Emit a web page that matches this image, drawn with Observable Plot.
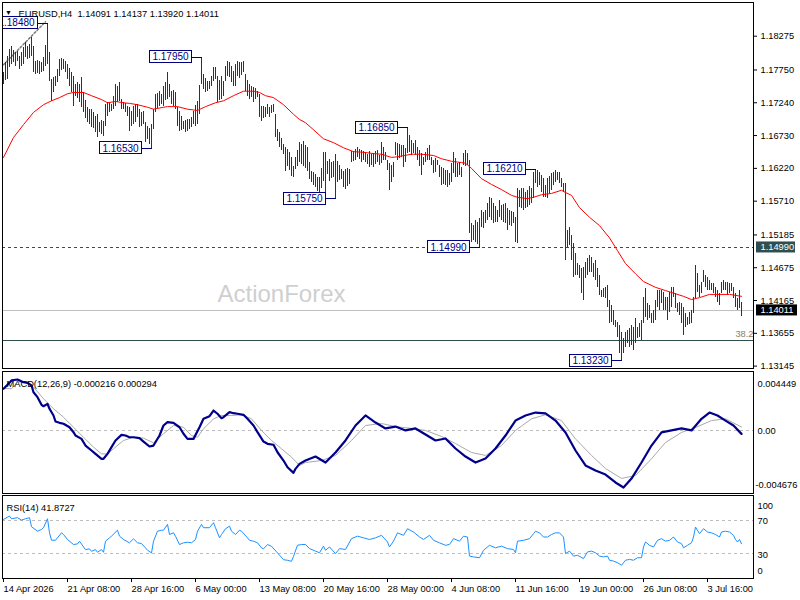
<!DOCTYPE html>
<html><head><meta charset="utf-8">
<script src="https://cdn.jsdelivr.net/npm/d3@7"></script>
<script src="https://cdn.jsdelivr.net/npm/@observablehq/plot@0.6"></script>
<style>
html,body{margin:0;padding:0;background:#fff;}
#chart{position:relative;width:800px;height:600px;overflow:hidden;background:#fff;}
#chart svg{position:absolute;left:0;}
</style></head><body><div id="chart"></div>
<script>
// ---------- data ----------
const symbolTitle = "EURUSD,H4";
const lastOHLC = [1.14091, 1.14137, 1.13920, 1.14011];

const high = [
1.1771,1.1787,1.1796,1.1807,1.1811,1.1805,1.1802,1.1804,1.1796,1.1802,
1.1810,1.1818,1.1811,1.1815,1.1825,1.1811,1.1788,1.1790,1.1788,1.1787,
1.1794,1.1813,1.1848,1.1802,1.1760,1.1763,1.1765,1.1776,1.1791,1.1793,
1.1791,1.1788,1.1783,1.1777,1.1771,1.1765,1.1752,1.1755,1.1752,1.1763,
1.1740,1.1727,1.1717,1.1714,1.1714,1.1709,1.1703,1.1706,1.1693,1.1696,
1.1695,1.1721,1.1724,1.1723,1.1721,1.1734,1.1752,1.1749,1.1755,1.1729,
1.1724,1.1723,1.1718,1.1717,1.1710,1.1718,1.1721,1.1721,1.1714,1.1709,
1.1710,1.1693,1.1687,1.1684,1.1690,1.1714,1.1737,1.1738,1.1742,1.1737,
1.1749,1.1755,1.1771,1.1752,1.1742,1.1743,1.1740,1.1717,1.1710,1.1703,
1.1695,1.1696,1.1698,1.1698,1.1701,1.1710,1.1720,1.1726,1.1751,1.1795,
1.1768,1.1762,1.1757,1.1757,1.1765,1.1779,1.1779,1.1765,1.1759,1.1765,
1.1757,1.1780,1.1788,1.1787,1.1780,1.1773,1.1783,1.1788,1.1787,1.1787,
1.1788,1.1768,1.1759,1.1752,1.1749,1.1748,1.1746,1.1742,1.1737,1.1718,
1.1718,1.1717,1.1721,1.1717,1.1720,1.1721,1.1706,1.1682,1.1678,1.1668,
1.1659,1.1654,1.1651,1.1647,1.1639,1.1625,1.1639,1.1650,1.1662,1.1659,
1.1664,1.1658,1.1654,1.1631,1.1617,1.1616,1.1612,1.1608,1.1608,1.1622,
1.1647,1.1647,1.1633,1.1636,1.1631,1.1633,1.1644,1.1633,1.1626,1.1620,
1.1617,1.1620,1.1622,1.1620,1.1648,1.1648,1.1651,1.1654,1.1651,1.1650,
1.1648,1.1647,1.1644,1.1648,1.1644,1.1645,1.1648,1.1650,1.1642,1.1662,
1.1654,1.1647,1.1634,1.1630,1.1626,1.1631,1.1662,1.1661,1.1659,1.1658,
1.1658,1.1653,1.1685,1.1673,1.1665,1.1661,1.1665,1.1654,1.1650,1.1645,
1.1639,1.1647,1.1653,1.1658,1.1639,1.1634,1.1637,1.1634,1.1626,1.1623,
1.1622,1.1619,1.1619,1.1614,1.1630,1.1647,1.1637,1.1630,1.1631,1.1623,
1.1645,1.1650,1.1645,1.1634,1.1536,1.1533,1.1541,1.1538,1.1544,1.1556,
1.1553,1.1556,1.1567,1.1577,1.1575,1.1567,1.1563,1.1556,1.1572,1.1564,
1.1566,1.1567,1.1560,1.1556,1.1555,1.1553,1.1546,1.1591,1.1588,1.1591,
1.1591,1.1584,1.1588,1.1594,1.1591,1.1616,1.1621,1.1618,1.1616,1.1611,
1.1606,1.1595,1.1606,1.1609,1.1614,1.1616,1.1619,1.1616,1.1616,1.1606,
1.1598,1.1598,1.1525,1.1530,1.1518,1.1505,1.1490,1.1474,1.1471,1.1466,
1.1468,1.1476,1.1482,1.1486,1.1483,1.1474,1.1479,1.1466,1.1455,1.1432,
1.1435,1.1437,1.1440,1.1417,1.1409,1.1401,1.1385,1.1382,1.1378,1.1367,
1.1357,1.1367,1.1370,1.1373,1.1378,1.1375,1.1389,1.1375,1.1381,1.1385,
1.1421,1.1435,1.1412,1.1409,1.1396,1.1401,1.1417,1.1432,1.1432,1.1432,
1.1429,1.1421,1.1421,1.1429,1.1437,1.1437,1.1427,1.1412,1.1413,1.1412,
1.1406,1.1396,1.1390,1.1398,1.1401,1.1421,1.1471,1.1458,1.1440,1.1444,
1.1463,1.1455,1.1452,1.1448,1.1443,1.1443,1.1437,1.1432,1.1427,1.1444,
1.1448,1.1444,1.1444,1.1443,1.1443,1.1437,1.1427,1.1420,1.1432,1.14137];

const low = [
1.1752,1.1759,1.1760,1.1779,1.1783,1.1787,1.1780,1.1788,1.1776,1.1780,
1.1783,1.1794,1.1791,1.1793,1.1796,1.1771,1.1768,1.1769,1.1768,1.1771,
1.1773,1.1780,1.1783,1.1757,1.1726,1.1740,1.1749,1.1755,1.1765,1.1774,
1.1776,1.1771,1.1760,1.1749,1.1740,1.1718,1.1734,1.1731,1.1724,1.1717,
1.1709,1.1700,1.1693,1.1690,1.1686,1.1684,1.1678,1.1670,1.1678,1.1675,
1.1672,1.1687,1.1703,1.1709,1.1710,1.1714,1.1718,1.1724,1.1726,1.1714,
1.1714,1.1709,1.1703,1.1679,1.1687,1.1690,1.1693,1.1701,1.1686,1.1687,
1.1690,1.1662,1.1667,1.1659,1.1653,1.1682,1.1709,1.1715,1.1718,1.1721,
1.1718,1.1727,1.1729,1.1732,1.1721,1.1718,1.1714,1.1687,1.1679,1.1681,
1.1682,1.1678,1.1679,1.1682,1.1686,1.1690,1.1687,1.1690,1.1706,1.1752,
1.1745,1.1740,1.1742,1.1745,1.1749,1.1757,1.1760,1.1724,1.1727,1.1729,
1.1734,1.1757,1.1765,1.1763,1.1755,1.1749,1.1749,1.1765,1.1762,1.1766,
1.1771,1.1742,1.1734,1.1729,1.1732,1.1724,1.1729,1.1732,1.1701,1.1695,
1.1700,1.1701,1.1706,1.1701,1.1707,1.1709,1.1670,1.1664,1.1654,1.1650,
1.1644,1.1617,1.1625,1.1619,1.1609,1.1608,1.1620,1.1625,1.1631,1.1628,
1.1625,1.1622,1.1617,1.1605,1.1600,1.1595,1.1592,1.1586,1.1584,1.1591,
1.1602,1.1581,1.1612,1.1602,1.1606,1.1608,1.1575,1.1600,1.1603,1.1605,
1.1592,1.1589,1.1594,1.1597,1.1631,1.1633,1.1634,1.1639,1.1636,1.1631,
1.1634,1.1631,1.1628,1.1623,1.1626,1.1623,1.1628,1.1631,1.1626,1.1630,
1.1634,1.1634,1.1619,1.1588,1.1600,1.1608,1.1642,1.1634,1.1637,1.1639,
1.1623,1.1631,1.1645,1.1647,1.1642,1.1645,1.1642,1.1634,1.1625,1.1611,
1.1626,1.1631,1.1634,1.1634,1.1626,1.1614,1.1616,1.1626,1.1608,1.1595,
1.1597,1.1595,1.1592,1.1595,1.1600,1.1614,1.1608,1.1608,1.1611,1.1608,
1.1626,1.1625,1.1626,1.1521,1.1507,1.1510,1.1507,1.1504,1.1499,1.1530,
1.1528,1.1536,1.1541,1.1546,1.1541,1.1536,1.1538,1.1538,1.1546,1.1541,
1.1538,1.1536,1.1525,1.1533,1.1532,1.1536,1.1507,1.1505,1.1561,1.1560,
1.1556,1.1560,1.1561,1.1564,1.1567,1.1575,1.1598,1.1592,1.1595,1.1584,
1.1577,1.1577,1.1575,1.1581,1.1588,1.1595,1.1600,1.1603,1.1598,1.1592,
1.1584,1.1479,1.1499,1.1502,1.1479,1.1452,1.1455,1.1455,1.1451,1.1427,
1.1417,1.1451,1.1455,1.1460,1.1460,1.1452,1.1448,1.1437,1.1424,1.1421,
1.1421,1.1420,1.1406,1.1381,1.1382,1.1378,1.1375,1.1359,1.1334,1.1323,
1.1334,1.1343,1.1350,1.1343,1.1347,1.1339,1.1350,1.1357,1.1359,1.1354,
1.1381,1.1390,1.1385,1.1389,1.1381,1.1381,1.1385,1.1406,1.1401,1.1412,
1.1401,1.1401,1.1385,1.1398,1.1406,1.1421,1.1404,1.1398,1.1393,1.1381,
1.1362,1.1375,1.1378,1.1379,1.1381,1.1396,1.1420,1.1429,1.1421,1.1427,
1.1444,1.1437,1.1432,1.1432,1.1432,1.1427,1.1421,1.1413,1.1409,1.1427,
1.1432,1.1432,1.1424,1.1427,1.1431,1.1420,1.1406,1.1401,1.1404,1.1392];

// moving average (red), read at bar positions
const maIdx = [0,5,10,15,20,24,28,32,35,40,44,49,52,56,60,63,67,72,75,80,82,87,92,97,101,106,110,115,120,125,128,131,135,140,145,148,151,155,160,165,170,175,180,185,189,194,197,204,209,215,219,224,229,231,234,239,244,249,254,257,262,265,269,274,279,280,284,288,293,298,303,307,311,316,320,326,331,336,340,344,348,353,358,363,369];
const maVal = [1.1639,1.1670,1.1690,1.1709,1.1721,1.1727,1.1732,1.1738,1.1740,1.1740,1.1735,1.1729,1.1724,1.1726,1.1724,1.1723,1.1721,1.1717,1.1714,1.1717,1.1718,1.1718,1.1714,1.1712,1.1718,1.1724,1.1727,1.1735,1.1742,1.1742,1.1740,1.1735,1.1732,1.1721,1.1706,1.1698,1.1693,1.1682,1.1668,1.1662,1.1654,1.1648,1.1647,1.1645,1.1644,1.1639,1.1640,1.1644,1.1644,1.1642,1.1637,1.1633,1.1631,1.1630,1.1622,1.1606,1.1597,1.1589,1.1580,1.1577,1.1575,1.1577,1.1581,1.1583,1.1588,1.1586,1.1580,1.1561,1.1546,1.1533,1.1514,1.1494,1.1474,1.1458,1.1446,1.1437,1.1432,1.1427,1.1423,1.1418,1.1421,1.1426,1.1426,1.1426,1.1423];

// horizontal levels
const resistanceLevel = 1.1499;
const fibLevel = 1.1355;
const fibLabel = "38.2";
const fibLineIdx = [0, 21];
const fibLineVal = [1.1783, 1.1850];

// swing labels
const lblIdx = [22, 99, 74, 166, 202, 238, 266, 309];
const lblPrice = [1.1848, 1.1795, 1.1653, 1.1575, 1.1685, 1.1499, 1.1621, 1.1323];

// axis ticks
const yTicks = [1.18275,1.17750,1.17240,1.16730,1.16220,1.15710,1.15185,1.14675,1.14165,1.13655,1.13145];
const xTickIdx = [0,32,64,96,128,160,192,224,256,288,320,352];
const xTickLabels = ["14 Apr 2026","21 Apr 08:00","28 Apr 16:00","6 May 00:00","13 May 08:00","20 May 16:00","28 May 00:00","4 Jun 08:00","11 Jun 16:00","19 Jun 00:00","26 Jun 08:00","3 Jul 16:00"];

// MACD(12,26,9)
const macdRange = [-0.004676, 0.004449];
const macdIdx = [0,2,4,7,10,12,14,15,17,19,20,22,23,25,26,28,30,33,35,36,39,41,44,46,49,50,52,54,56,59,61,63,65,68,70,73,75,78,80,82,85,88,90,92,95,98,100,103,105,107,109,110,113,115,117,120,122,125,127,130,132,135,137,140,142,145,146,148,151,156,161,166,171,176,181,186,191,196,201,206,211,216,221,226,231,236,241,246,251,256,261,266,271,276,281,286,291,296,301,306,310,314,319,324,329,334,339,344,349,353,357,361,365,369];
const macdVal = [0.00316,0.00345,0.00378,0.00385,0.00365,0.00360,0.00340,0.00290,0.00253,0.00196,0.00185,0.00203,0.00166,0.00116,0.00071,0.00061,0.00054,0.00028,-0.00009,-0.00034,-0.00059,-0.00109,-0.00146,-0.00171,-0.00208,-0.00208,-0.00171,-0.00121,-0.00071,-0.00029,-0.00034,-0.00047,-0.00047,-0.00054,-0.00079,-0.00116,-0.00109,-0.00034,0.00041,0.00066,0.00061,0.00028,-0.00021,-0.00059,-0.00059,0.00028,0.00091,0.00111,0.00153,0.00129,0.00096,0.00103,0.00141,0.00133,0.00129,0.00121,0.00091,0.00041,-0.00009,-0.00079,-0.00096,-0.00103,-0.00159,-0.00221,-0.00271,-0.00313,-0.00283,-0.00246,-0.00221,-0.00191,-0.00236,-0.00161,-0.00071,0.00041,0.00116,0.00063,0.00019,0.00033,0.00004,0.00019,-0.00026,-0.00071,-0.00056,-0.00131,-0.00191,-0.00236,-0.00206,-0.00131,-0.00034,0.00078,0.00116,0.00138,0.00131,0.00078,-0.00011,-0.00146,-0.00258,-0.00296,-0.00326,-0.00385,-0.00423,-0.00356,-0.00236,-0.00109,-0.00011,0.00004,0.00019,0.00004,0.00091,0.00138,0.00116,0.00078,0.00041,-0.000216];
const sigIdx = [0,4,7,12,15,20,25,30,35,40,45,49,52,55,60,65,70,75,80,85,90,94,97,100,105,109,114,119,124,129,134,139,144,148,151,159,166,174,181,189,196,204,211,219,226,234,241,249,256,264,271,279,286,294,301,309,316,324,331,339,346,354,361,369];
const sigVal = [0.00318,0.00316,0.00365,0.00370,0.00328,0.00241,0.00166,0.00103,0.00028,-0.00047,-0.00121,-0.00171,-0.00171,-0.00133,-0.00071,-0.00047,-0.00054,-0.00088,-0.00021,0.00041,0.00028,-0.00034,-0.00047,0.00016,0.00091,0.00116,0.00116,0.00121,0.00091,0.00004,-0.00071,-0.00133,-0.00196,-0.00258,-0.00236,-0.00221,-0.00183,-0.00071,0.00041,0.00056,0.00033,0.00019,0.00004,-0.00041,-0.00094,-0.00161,-0.00183,-0.00109,0.00004,0.00091,0.00121,0.00078,-0.00059,-0.00183,-0.00281,-0.00355,-0.00333,-0.00208,-0.00086,-0.00011,0.00026,0.00078,0.00091,0.000294];

// RSI(14)
const rsiLevels = [70, 30];
const rsiTicks = [100, 70, 30, 0];
const rsiIdx = [0,3,4,7,9,11,13,14,17,19,20,22,23,24,26,29,30,32,35,37,38,40,41,43,44,46,47,49,50,51,53,54,57,58,60,63,65,67,69,71,72,74,75,77,79,80,82,83,85,86,88,90,92,94,96,97,99,100,103,105,106,108,109,111,113,114,116,118,119,122,123,125,127,129,130,132,134,137,140,142,144,145,147,149,151,153,156,158,160,161,163,166,168,171,174,177,180,183,186,189,192,193,195,197,200,202,205,208,210,213,215,218,221,223,225,228,230,232,233,235,238,240,243,246,249,252,255,256,257,260,263,265,266,268,270,272,274,276,278,280,281,283,285,287,290,292,294,296,298,300,302,303,305,307,309,311,313,315,317,319,320,321,323,325,327,329,331,333,335,337,339,340,342,344,345,346,348,350,352,354,356,358,359,361,363,365,366,367,368,369];
const rsiVal = [71.2,75.2,72,73.3,70.4,72,73.3,62.4,57,59.1,61.2,72,55.1,46.1,46.1,55.1,53,47,40.9,41.7,44.9,38.1,34.8,35.7,32.8,34.8,31.6,34.8,31.6,44.9,49,51,58.2,51,47,43,47.8,43,42.1,36.9,34,30.8,44.9,57,58.2,58.2,65.2,53,55.1,51,40.9,43,43.7,43,47,57,65.2,61.2,61.2,67.2,61.2,49,53,59.9,63.1,57,53,58.2,57,49,46.1,44.9,43,36.9,35.7,40.9,38.8,30.8,22.7,21.9,20.7,26.7,40.1,40.9,41,36,33,31,39,34,38,30,36,35,48,51,49,47,49,52,44,38,45,55,52,60,56,50,47,52,46,43,40,41,48,45,51,50,27,26,25,34,40,37,39,36,35,31,45,46,48,54,57,55,50,50,53,55,55,50,30,33,27,28,24,32,33,31,27,26,27,22,21,19,16,22,23,22,25,25,38,44,40,38,46,48,45,46,50,44,42,37,40,43,50,62,54,60,56,55,53,50,56,57,56,52,47,44,47,41.8727];

// ---------- layout helpers ----------
const FONT = "'Liberation Sans', Arial, Helvetica, sans-serif";
const FS = 9.3;
const xDomain = [-0.5, 375];
const px2i = px => xDomain[0] + (px - 2) / 2;
const yMain = [1.13108, 1.18799];
const ppx = (yMain[1] - yMain[0]) / 366;
const bars = high.map((h, i) => ({i, high: h, low: low[i]}));
const ma = maIdx.map((i, k) => ({i, v: maVal[k]}));
const macd = macdIdx.map((i, k) => ({i, v: macdVal[k]}));
const sig = sigIdx.map((i, k) => ({i, v: sigVal[k]}));
const rsi = rsiIdx.map((i, k) => ({i, v: rsiVal[k]}));
const labels = lblIdx.map((i, k) => ({i, p: lblPrice[k]}));
const fibLine = fibLineIdx.map((i, k) => ({i, v: fibLineVal[k]}));
const NAVY = "#00007f";
const BAR = "#0a3d62";
const baseStyle = {fontFamily: FONT, fontSize: FS + "px", background: "transparent", color: "black", overflow: "visible"};
const root = document.getElementById("chart");

// ---------- main price panel ----------
const main = Plot.plot({
  width: 800, height: 370,
  marginTop: 2, marginBottom: 2, marginLeft: 2, marginRight: 47,
  x: {domain: xDomain, axis: null},
  y: {domain: yMain, axis: null},
  style: baseStyle,
  marks: [
    Plot.text(["ActionForex"], {frameAnchor: "top-left", dx: 279, dy: 282, fontSize: 24, fill: "#cfcfcf", textAnchor: "middle"}),
    Plot.ruleY([lastOHLC[3]], {stroke: "#c0c0c0", shapeRendering: "crispEdges"}),
    Plot.ruleY([fibLevel], {stroke: "#2f4f4f", shapeRendering: "crispEdges"}),
    Plot.ruleY([resistanceLevel], {stroke: "#2f4f4f", strokeDasharray: "3,3", shapeRendering: "crispEdges"}),
    Plot.line(fibLine, {x: "i", y: "v", stroke: "#7a7a7a", strokeDasharray: "2,2"}),
    Plot.ruleX(bars, {x: "i", y1: "low", y2: "high", stroke: BAR, strokeWidth: 1, shapeRendering: "crispEdges"}),
    Plot.line(ma, {x: "i", y: "v", stroke: "#ff0000", strokeWidth: 1}),
    Plot.text([fibLabel], {frameAnchor: "right", y: () => fibLevel, dx: 0, dy: -6, textAnchor: "end", fill: "#8c7d68", fontSize: FS, clip: true}),
    Plot.link(labels, {x1: d => d.i - 5, x2: d => d.i, y1: "p", y2: "p", stroke: NAVY, shapeRendering: "crispEdges"}),
    Plot.rect(labels, {x1: d => d.i - 26, x2: d => d.i - 5, y1: d => d.p - 6 * ppx, y2: d => d.p + 6 * ppx, fill: "white", stroke: NAVY, clip: true, shapeRendering: "crispEdges"}),
    Plot.text(labels, {x: d => d.i - 15.5, y: "p", text: d => d.p.toFixed(5), fill: NAVY, fontSize: 10, clip: true}),
    Plot.frame({stroke: "black", shapeRendering: "crispEdges"}),
    Plot.axisY({ticks: yTicks, anchor: "right", tickSize: 3, tickPadding: 4, tickFormat: d => d.toFixed(5), fontSize: FS, label: null}),
    Plot.rect([resistanceLevel], {x1: px2i(756), x2: px2i(795), y1: d => d - 5.5 * ppx, y2: d => d + 5.5 * ppx, fill: "#2f4f4f"}),
    Plot.text([resistanceLevel], {x: px2i(760), y: d => d, text: d => d.toFixed(5), fill: "white", textAnchor: "start", fontSize: FS}),
    Plot.rect([lastOHLC[3]], {x1: px2i(756), x2: px2i(797), y1: d => d - 5.5 * ppx, y2: d => d + 5.5 * ppx, fill: "black"}),
    Plot.text([lastOHLC[3]], {x: px2i(760), y: d => d, text: d => d.toFixed(5), fill: "white", textAnchor: "start", fontSize: FS}),
    Plot.text(["\u25BC"], {frameAnchor: "top-left", dx: 6, dy: 7.5, fontSize: 7, textAnchor: "middle"}),
    Plot.text([symbolTitle + "  " + lastOHLC.map(v => v.toFixed(5)).join(" ")], {frameAnchor: "top-left", dx: 16, dy: 8, textAnchor: "start", fontSize: FS})
  ]
});
main.style.top = "0px";
root.appendChild(main);

// ---------- MACD panel ----------
const macdPanel = Plot.plot({
  width: 800, height: 124,
  marginTop: 1, marginBottom: 1, marginLeft: 2, marginRight: 47,
  x: {domain: xDomain, axis: null},
  y: {domain: macdRange, axis: null},
  style: baseStyle,
  marks: [
    Plot.ruleY([0], {stroke: "#bdbdbd", strokeDasharray: "3,3", shapeRendering: "crispEdges"}),
    Plot.line(sig, {x: "i", y: "v", stroke: "#a9a9a9", strokeWidth: 1}),
    Plot.line(macd, {x: "i", y: "v", stroke: "#00008b", strokeWidth: 2.2}),
    Plot.frame({stroke: "black", shapeRendering: "crispEdges"}),
    Plot.text([`MACD(12,26,9) ${macdVal[macdVal.length - 1].toFixed(6)} ${sigVal[sigVal.length - 1].toFixed(6)}`], {frameAnchor: "top-left", dx: 4, dy: 9, textAnchor: "start"}),
    Plot.text([macdRange[1]], {frameAnchor: "top-right", dx: 4, dy: 9, textAnchor: "start", text: d => d.toFixed(6)}),
    Plot.text([0], {frameAnchor: "right", y: d => d, dx: 4, textAnchor: "start", text: () => "0.00"}),
    Plot.text([macdRange[0]], {frameAnchor: "bottom-right", dx: 2, dy: -6, textAnchor: "start", text: d => d.toFixed(6)})
  ]
});
macdPanel.style.top = "370px";
root.appendChild(macdPanel);

// ---------- RSI panel + time axis ----------
const rsiPanel = Plot.plot({
  width: 800, height: 106,
  marginTop: 1, marginBottom: 22, marginLeft: 2, marginRight: 47,
  x: {domain: xDomain, axis: null},
  y: {domain: [0, 100], axis: null},
  style: baseStyle,
  marks: [
    Plot.ruleY(rsiLevels, {stroke: "#bdbdbd", strokeDasharray: "3,3", shapeRendering: "crispEdges"}),
    Plot.line(rsi, {x: "i", y: "v", stroke: "#1e90ff", strokeWidth: 1}),
    Plot.frame({stroke: "black", shapeRendering: "crispEdges"}),
    Plot.text([`RSI(14) ${rsiVal[rsiVal.length - 1].toFixed(4)}`], {frameAnchor: "top-left", dx: 4, dy: 9, textAnchor: "start"}),
    Plot.text([rsiTicks[0]], {frameAnchor: "top-right", dx: 4, dy: 7, textAnchor: "start", text: d => String(d)}),
    Plot.text(rsiTicks.slice(1, 3), {frameAnchor: "right", y: d => d, dx: 4, dy: 1, textAnchor: "start", text: d => String(d)}),
    Plot.text([rsiTicks[3]], {frameAnchor: "bottom-right", dx: 4, dy: -5, textAnchor: "start", text: d => String(d)}),
    Plot.axisX({ticks: xTickIdx, anchor: "bottom", tickSize: 4, tickPadding: 3, textAnchor: "start", fontSize: FS, label: null, tickFormat: d => xTickLabels[xTickIdx.indexOf(d)]})
  ]
});
rsiPanel.style.top = "494px";
root.appendChild(rsiPanel);
</script>
</body></html>
